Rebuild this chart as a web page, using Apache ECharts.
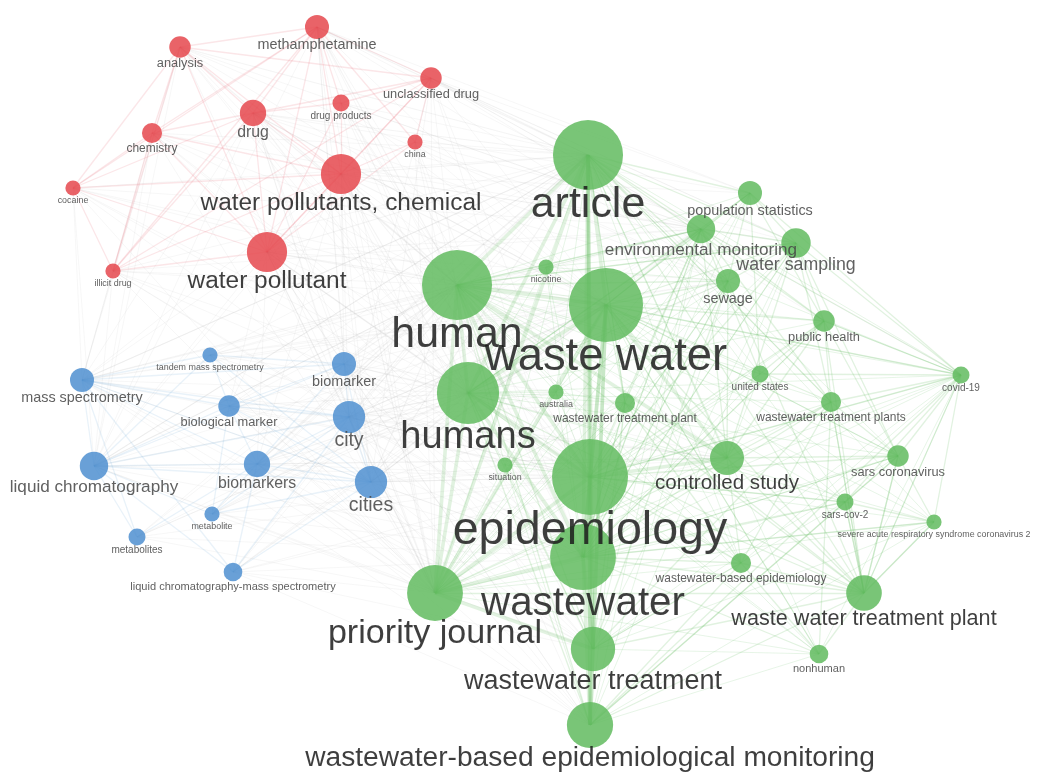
<!DOCTYPE html>
<html>
<head>
<meta charset="utf-8">
<title>Keyword co-occurrence network</title>
<script src="https://cdn.jsdelivr.net/npm/echarts@6/dist/echarts.min.js"></script>
<style>
  html, body { margin: 0; padding: 0; background: #ffffff; }
  #chart { width: 1042px; height: 775px; }
</style>
</head>
<body>
<div id="chart"></div>
<script>
// Keywords of the co-occurrence map
const nodeNames = [
  'methamphetamine', 'analysis', 'unclassified drug', 'drug', 'drug products',
  'chemistry', 'china', 'water pollutants, chemical', 'cocaine', 'water pollutant',
  'illicit drug',
  'tandem mass spectrometry', 'mass spectrometry', 'biomarker', 'biological marker',
  'city', 'liquid chromatography', 'biomarkers', 'cities', 'metabolite',
  'metabolites', 'liquid chromatography-mass spectrometry',
  'article', 'population statistics', 'environmental monitoring', 'water sampling',
  'nicotine', 'sewage', 'human', 'waste water', 'public health', 'humans',
  'australia', 'wastewater treatment plant', 'united states', 'wastewater treatment plants',
  'covid-19', 'situation', 'epidemiology', 'controlled study', 'sars coronavirus',
  'sars-cov-2', 'severe acute respiratory syndrome coronavirus 2',
  'wastewater-based epidemiology', 'wastewater', 'priority journal',
  'waste water treatment plant', 'wastewater treatment', 'nonhuman',
  'wastewater-based epidemiological monitoring'
];

// Cluster membership: 0 = drugs, 1 = analytical chemistry, 2 = wastewater epidemiology
const nodeCluster = [
  0, 0, 0, 0, 0, 0, 0, 0, 0, 0, 0,
  1, 1, 1, 1, 1, 1, 1, 1, 1, 1, 1,
  2, 2, 2, 2, 2, 2, 2, 2, 2, 2, 2, 2, 2, 2, 2, 2, 2, 2, 2, 2, 2, 2, 2, 2, 2, 2, 2, 2
];

// Map coordinates of each keyword
const mapX = [
  317, 180, 431, 253, 341, 152, 415, 341, 73, 267, 113,
  210, 82, 344, 229, 349, 94, 257, 371, 212, 137, 233,
  588, 750, 701, 796, 546, 728, 457, 606, 824, 468, 556, 625, 760, 831,
  961, 505, 590, 727, 898, 845, 934, 741, 583, 435, 864, 593, 819, 590
];
const mapY = [
  27, 47, 78, 113, 103, 133, 142, 174, 188, 252, 271,
  355, 380, 364, 406, 417, 466, 464, 482, 514, 537, 572,
  155, 193, 229, 243, 267, 281, 285, 305, 321, 393, 392, 403, 374, 402,
  375, 465, 477, 458, 456, 502, 522, 563, 557, 593, 593, 649, 654, 725
];

// Occurrences of each keyword
const occurrences = [
  10, 8, 8, 12, 5, 7, 4, 28, 4, 28, 4,
  4, 10, 10, 8, 18, 14, 12, 18, 4, 5, 6,
  85, 10, 14, 15, 4, 10, 85, 95, 8, 67, 4, 7, 5, 7,
  5, 4, 100, 20, 8, 5, 4, 7, 75, 54, 22, 34, 6, 37
];

// Co-occurrence links as adjacency lists [source, [targets]], grouped by strength
const strongLinks = [
  [22, [28, 29, 31, 38, 44, 45, 47, 49]],
  [28, [29, 31, 38, 44, 45, 39]],
  [29, [31, 38, 44, 45, 47, 49, 39]],
  [31, [38, 44, 45]],
  [38, [44, 45, 47, 49, 39]],
  [44, [45, 47, 49]],
  [45, [47]],
  [47, [49]]
];
const mediumLinks = [
  [22, [0, 1, 2, 3, 7, 9, 13, 15, 16, 18, 23, 24, 25, 27, 30, 33, 35, 39, 46, 12, 17]],
  [28, [0, 1, 3, 7, 9, 13, 15, 17, 18, 24, 25, 27, 46, 47, 49, 12, 16]],
  [29, [3, 7, 9, 15, 18, 23, 24, 25, 27, 30, 33, 35, 46, 40, 48, 36]],
  [31, [7, 9, 13, 15, 17, 18, 24, 46, 47, 49, 14]],
  [38, [7, 9, 15, 18, 24, 25, 27, 30, 46, 40, 43, 36, 41]],
  [44, [24, 25, 27, 30, 33, 35, 39, 43, 46, 40, 41, 42, 48]],
  [45, [7, 9, 15, 18, 39, 46, 13, 17]],
  [39, [24, 25, 27, 30, 33, 35, 46, 43, 40]],
  [46, [27, 30, 33, 35, 40, 41, 42, 48, 43, 36]],
  [47, [27, 33, 35, 46, 43]],
  [49, [43, 46, 40, 36, 41]],
  [7, [0, 1, 2, 3, 4, 5, 6, 8, 9, 10]],
  [9, [0, 1, 2, 3, 4, 5, 8, 10, 6]],
  [3, [0, 1, 2, 4, 5, 8, 10]],
  [0, [1, 2, 4, 5, 6, 8, 10]],
  [1, [5, 8, 10, 2]],
  [2, [4, 6, 10]],
  [5, [8, 10]],
  [8, [10]],
  [16, [12, 11, 13, 14, 15, 17, 18, 19, 20, 21]],
  [12, [11, 13, 14, 15, 17, 18, 20, 21]],
  [15, [13, 14, 17, 18, 19, 21]],
  [18, [13, 14, 17, 19, 21, 11]],
  [17, [13, 14, 19, 20, 21]],
  [13, [11, 14]],
  [14, [11, 19]],
  [23, [24, 25, 27, 30, 34, 36]],
  [24, [25, 27, 30, 34, 33, 35, 36]],
  [25, [27, 30, 36, 35, 40]],
  [30, [36, 40, 34, 35]],
  [36, [40, 41, 42, 35, 34]],
  [40, [41, 42, 46, 35]],
  [41, [42, 46]],
  [42, [46]],
  [35, [46, 48, 43]],
  [43, [48, 33]]
];
const weakLinks = [
  [0, [29, 31, 38, 44, 45, 13, 15, 18, 16, 24, 27, 23, 25]],
  [1, [29, 31, 38, 44, 45, 12, 16, 24, 27]],
  [2, [29, 31, 38, 44, 45, 15, 18, 23, 24, 25, 30, 36]],
  [3, [29, 31, 38, 44, 45, 15, 18, 13, 16, 12, 24, 27, 23]],
  [4, [28, 29, 38, 31, 22, 44, 45, 24]],
  [5, [28, 29, 31, 38, 12, 16, 22, 44, 45, 24]],
  [6, [28, 29, 22, 44, 45, 31, 25, 27]],
  [7, [39, 47, 49, 13, 15, 17, 18, 16, 12, 14, 23, 24, 25, 27]],
  [8, [28, 22, 29, 16, 12, 31, 38, 44, 45, 24]],
  [9, [39, 47, 49, 13, 15, 17, 18, 16, 12, 14, 24, 27]],
  [10, [28, 22, 29, 16, 12, 15, 31, 38, 44, 45, 24]],
  [11, [22, 28, 29, 31, 38, 44, 45, 24, 27]],
  [12, [22, 29, 31, 38, 44, 45, 39, 24, 27, 47, 49]],
  [13, [29, 38, 44, 39, 47, 49, 26, 32, 37]],
  [14, [22, 28, 29, 38, 44, 45, 39, 47, 49]],
  [15, [29, 38, 44, 39, 47, 49, 26, 32, 37, 24, 33]],
  [16, [22, 28, 29, 31, 38, 44, 45, 39, 47]],
  [17, [29, 38, 44, 39, 47, 49, 32]],
  [18, [29, 38, 44, 39, 47, 49, 24, 33, 37]],
  [19, [22, 28, 29, 31, 38, 45, 44, 24, 27]],
  [20, [22, 28, 29, 31, 38, 45, 44, 27]],
  [21, [22, 28, 29, 31, 38, 44, 45, 47, 39, 49, 24]],
  [26, [22, 28, 29, 31, 38, 44, 45, 24, 25, 27]],
  [32, [22, 28, 29, 31, 38, 44, 45, 27, 24, 33]],
  [37, [22, 28, 29, 31, 38, 44, 45, 39, 47, 49, 33]],
  [33, [22, 28, 31, 38, 44, 45, 49]],
  [34, [22, 28, 29, 38, 44, 45, 39]],
  [35, [22, 28, 31, 38, 45]],
  [36, [22, 28, 29, 31, 38, 44, 45, 47, 27, 30, 39, 46, 48, 43]],
  [40, [22, 28, 29, 31, 44, 45, 47]],
  [41, [22, 28, 29, 31, 38, 45, 47]],
  [42, [22, 28, 29, 31, 38, 44, 45, 47, 49]],
  [43, [22, 28, 29, 31, 45]],
  [48, [22, 28, 29, 31, 38, 45, 47, 49]],
  [23, [28, 29, 31, 38, 44, 45]],
  [25, [28, 31, 44, 45, 47, 49]],
  [27, [31, 38, 44, 45, 49]],
  [30, [28, 31, 44, 45]],
  [24, [28, 31, 44, 45, 47, 49]]
];

// Styling
const clusterColors = ['#e5484e', '#4f8fd0', '#62bb5f'];
const clusterLinkColors = [
  'rgba(228, 90, 105, 0.30)',
  'rgba(100, 160, 215, 0.28)',
  'rgba(98, 187, 95, 0.38)'
];
const crossLinkColor = 'rgba(165, 165, 165, 0.24)';
const linkWidths = { strong: 3.6, medium: 1.3, weak: 0.8 };

function diameter(occ) { return 7.6 * Math.sqrt(occ); }

const nodes = nodeNames.map(function (name, i) {
  const d = diameter(occurrences[i]);
  const fs = Math.max(8.5, 0.62 * d - 0.5);
  return {
    name: name,
    value: [mapX[i], mapY[i]],
    symbolSize: d,
    itemStyle: { color: clusterColors[nodeCluster[i]], opacity: 0.85 },
    label: {
      show: true,
      position: 'bottom',
      distance: 2 - 0.2 * fs,
      fontSize: fs,
      color: fs >= 20 ? '#1c1c1c' : '#444444'
    }
  };
});

const links = [];
function addLinks(list, width) {
  list.forEach(function (row) {
    const s = row[0];
    row[1].forEach(function (t) {
      const same = nodeCluster[s] === nodeCluster[t];
      links.push({
        source: s,
        target: t,
        lineStyle: {
          color: same ? clusterLinkColors[nodeCluster[s]] : crossLinkColor,
          width: same ? width : Math.min(width, 1.1)
        }
      });
    });
  });
}
addLinks(weakLinks, linkWidths.weak);
addLinks(mediumLinks, linkWidths.medium);
addLinks(strongLinks, linkWidths.strong);

const chart = echarts.init(document.getElementById('chart'), null, { renderer: 'canvas' });
chart.setOption({
  animation: false,
  backgroundColor: '#ffffff',
  textStyle: { fontFamily: '"Liberation Sans", Arial, sans-serif' },
  grid: { left: 0, right: 0, top: 0, bottom: 0 },
  xAxis: { type: 'value', min: 0, max: 1042, show: false },
  yAxis: { type: 'value', min: 0, max: 775, inverse: true, show: false },
  series: [{
    type: 'graph',
    coordinateSystem: 'cartesian2d',
    layout: 'none',
    symbol: 'circle',
    data: nodes,
    links: links,
    lineStyle: { curveness: 0 },
    label: { fontFamily: '"Liberation Sans", Arial, sans-serif' },
    emphasis: { disabled: true },
    silent: true
  }]
});
</script>
</body>
</html>
